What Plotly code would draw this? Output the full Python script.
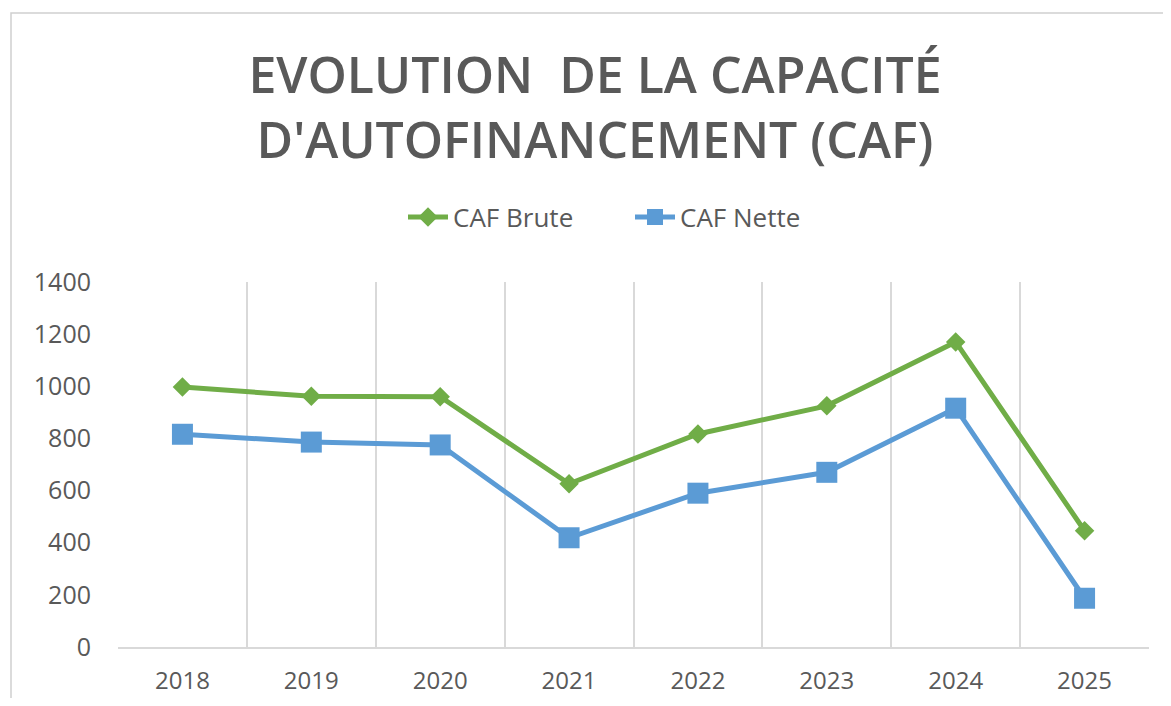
import plotly.graph_objects as go

years = ["2018", "2019", "2020", "2021", "2022", "2023", "2024", "2025"]
caf_brute = [997, 962, 960, 626, 817, 925, 1170, 446]
caf_nette = [816, 786, 775, 419, 590, 670, 916, 187]

GREEN = "#70AD47"
BLUE = "#5B9BD5"
TXT = "#595959"
GRID = "#D9D9D9"

fig = go.Figure()
fig.add_trace(go.Scatter(
    x=years, y=caf_brute, name="CAF Brute", mode="lines+markers",
    line=dict(color=GREEN, width=5),
    marker=dict(symbol="diamond", size=15, color=GREEN),
))
fig.add_trace(go.Scatter(
    x=years, y=caf_nette, name="CAF Nette", mode="lines+markers",
    line=dict(color=BLUE, width=5),
    marker=dict(symbol="square", size=21, color=BLUE),
))

# page body adds an 8px margin; figure coords = screen coords - 8
W, H = 1155, 690
L, T = 110, 274
R = W - 1141
B = H - 639
pw = W - L - R
ph = H - T - B

def px(xp):
    return (xp - L) / pw

def py(yp):
    return (H - B - yp) / ph

fig.update_layout(
    width=W, height=H,
    margin=dict(l=L, r=R, t=T, b=B, autoexpand=False),
    paper_bgcolor="white", plot_bgcolor="white",
    font=dict(family="Open Sans", color=TXT),
    title=dict(
        text="EVOLUTION  DE LA CAPACITÉ<br>D'AUTOFINANCEMENT (CAF)",
        x=587 / W, xanchor="center", xref="container",
        y=1 - 85 / H, yanchor="middle", yref="container",
        font=dict(family="Open Sans", size=50, color=TXT, weight=600),
    ),
    legend=dict(
        orientation="h", x=622 / W, xanchor="center", xref="container",
        y=1 - 209 / H, yanchor="middle", yref="container",
        font=dict(size=26, color=TXT), itemwidth=40,
        entrywidth=172, entrywidthmode="pixels",
        bgcolor="rgba(0,0,0,0)",
    ),
    showlegend=True,
    xaxis=dict(
        type="category", range=[-0.5, 7.5], automargin=False,
        tickson="boundaries", showgrid=True, gridcolor=GRID, gridwidth=1.5,
        showline=True, linecolor=GRID, linewidth=1.5,
        ticks="", tickfont=dict(size=24, color=TXT),
        ticklabelstandoff=11, zeroline=False,
    ),
    yaxis=dict(
        range=[0, 1400], dtick=200, tick0=0, automargin=False,
        showgrid=False, zeroline=False, showline=False,
        ticks="", tickfont=dict(size=25, color=TXT),
        ticklabelstandoff=26,
    ),
    shapes=[dict(
        type="rect", xref="paper", yref="paper",
        x0=px(3), x1=px(1250), y0=py(760), y1=py(5),
        line=dict(color="#D0D0D0", width=1.5), fillcolor="rgba(0,0,0,0)",
        layer="below",
    )],
)

fig.write_html("out.html")
